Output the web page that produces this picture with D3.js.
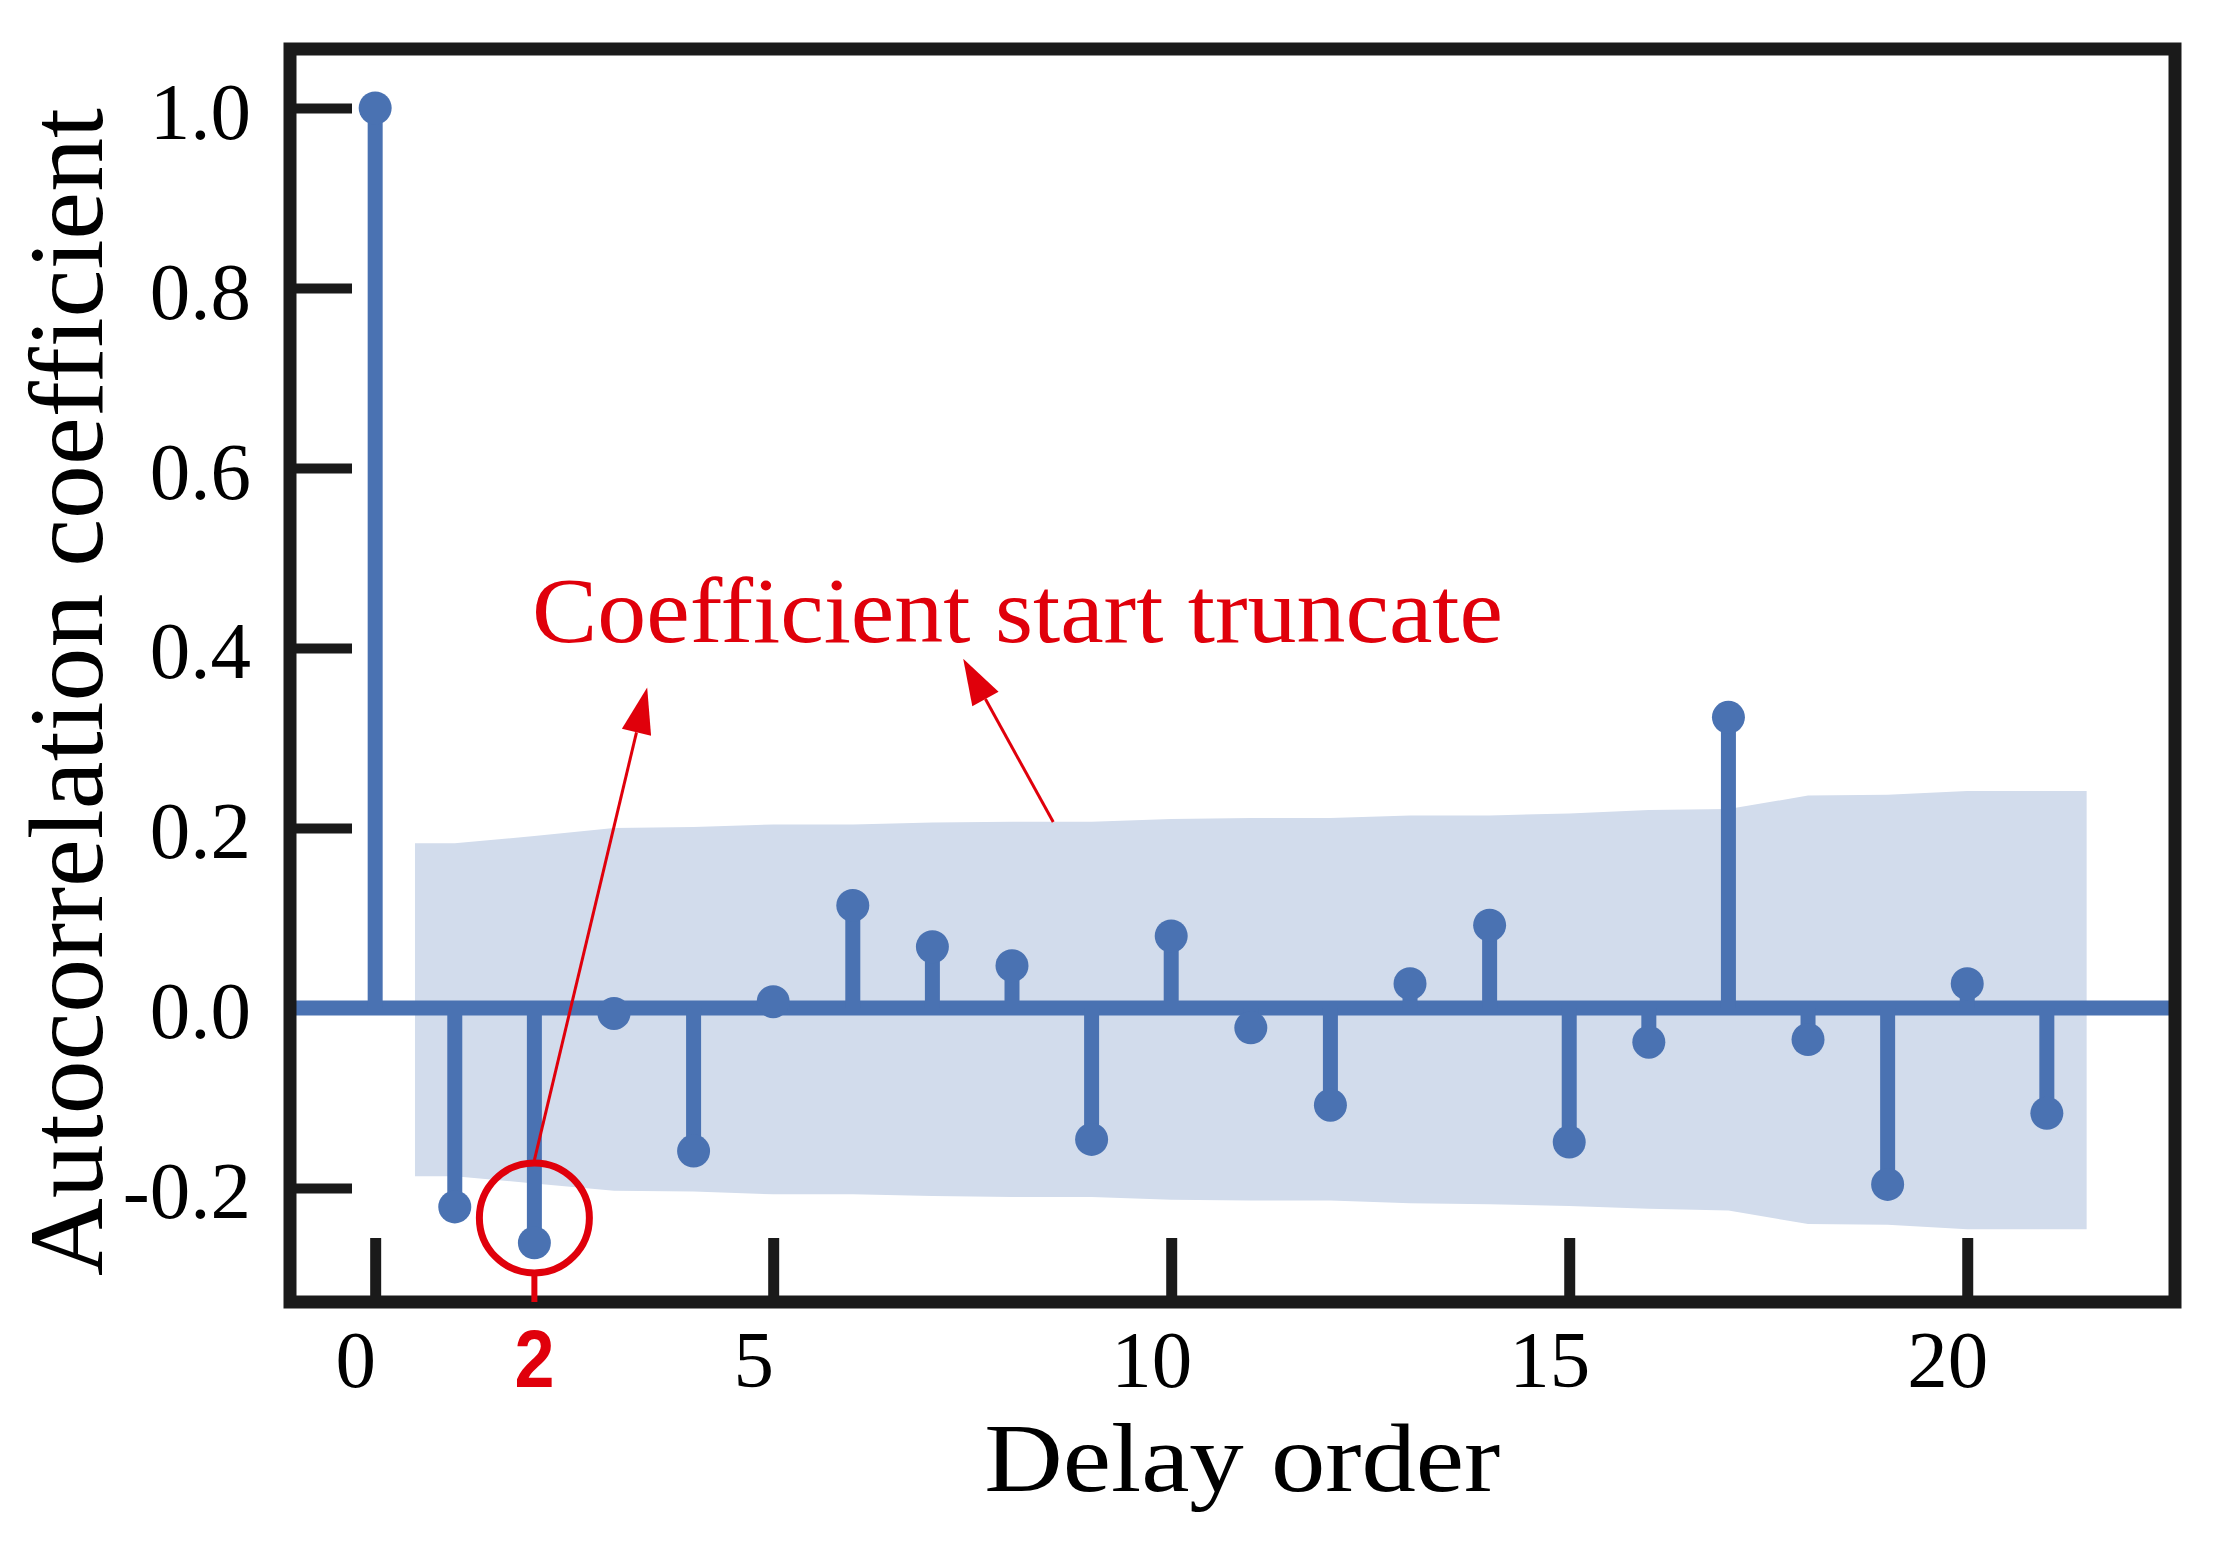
<!DOCTYPE html>
<html>
<head>
<meta charset="utf-8">
<script src="https://cdn.jsdelivr.net/npm/d3@7"></script>
<style>
  html, body { margin: 0; padding: 0; background: #ffffff; }
  svg { display: block; }
</style>
</head>
<body>
<svg id="chart" width="2234" height="1564"></svg>
<script>
// ---------------- data ----------------
const lags = [0, 1, 2, 3, 4, 5, 6, 7, 8, 9, 10, 11, 12, 13, 14, 15, 16, 17, 18, 19, 20, 21];
const acfValues = [1.0, -0.221, -0.261, -0.006, -0.159, 0.007, 0.114, 0.068, 0.047, -0.146, 0.080, -0.022,
                   -0.108, 0.027, 0.092, -0.149, -0.038, 0.323, -0.035, -0.196, 0.027, -0.117];

const bandLags  = [0.5, 1, 2, 3, 4, 5, 6, 7, 8, 9, 10, 11, 12, 13, 14, 15, 16, 17, 18, 19, 20, 21, 21.5];
const bandUpper = [0.183, 0.183, 0.191, 0.200, 0.201, 0.204, 0.204, 0.206, 0.207, 0.207, 0.210, 0.211,
                   0.211, 0.214, 0.214, 0.216, 0.220, 0.221, 0.236, 0.237, 0.241, 0.241, 0.241];
const bandLower = [-0.187, -0.187, -0.195, -0.203, -0.204, -0.207, -0.207, -0.209, -0.210, -0.210, -0.213, -0.214,
                   -0.214, -0.217, -0.218, -0.220, -0.223, -0.225, -0.240, -0.241, -0.246, -0.246, -0.246];

const xTickValues = [0, 5, 10, 15, 20];
const xTickLabels = ["0", "5", "10", "15", "20"];
const yTickValues = [-0.2, 0.0, 0.2, 0.4, 0.6, 0.8, 1.0];
const yTickLabels = ["-0.2", "0.0", "0.2", "0.4", "0.6", "0.8", "1.0"];

const xTitle = "Delay order";
const yTitle = "Autocorrelation coefficient";
const annotationText = "Coefficient start truncate";
const highlightLag = 2;
const highlightLabel = "2";

// ---------------- layout ----------------
const frame = { left: 290, right: 2175, top: 49, bottom: 1302 };
const blue = "#4a72b2";
const bandColor = "#d2dcec";
const red = "#e0000b";
const ink = "#1a1a1a";
const serif = "'Liberation Serif', 'Times New Roman', serif";

const x = d3.scaleLinear().domain([-1.07, 22.61]).range([frame.left, frame.right]);
const y = d3.scaleLinear().domain([-0.3267, 1.0656]).range([frame.bottom, frame.top]);

const svg = d3.select("#chart");

// confidence band
const area = d3.area()
  .x((d, i) => x(bandLags[i]))
  .y0((d, i) => y(bandLower[i]))
  .y1((d, i) => y(bandUpper[i]));
svg.append("path")
  .datum(bandLags)
  .attr("d", area)
  .attr("fill", bandColor);

// y axis (ticks inward)
const yAxis = d3.axisLeft(y)
  .tickValues(yTickValues)
  .tickSize(-62)
  .tickPadding(39)
  .tickFormat((d, i) => yTickLabels[i]);
const gy = svg.append("g")
  .attr("transform", `translate(${frame.left},0)`)
  .call(yAxis);
gy.select(".domain").remove();
gy.selectAll(".tick line").attr("stroke", ink).attr("stroke-width", 10);
gy.selectAll(".tick text")
  .attr("font-family", serif)
  .attr("font-size", 81)
  .attr("fill", "#000")
  .attr("dy", "0.37em");

// x axis (ticks inward)
const xAxis = d3.axisBottom(x)
  .tickValues(xTickValues)
  .tickSize(-64)
  .tickFormat((d, i) => xTickLabels[i]);
const gx = svg.append("g")
  .attr("transform", `translate(0,${frame.bottom})`)
  .call(xAxis);
gx.select(".domain").remove();
gx.selectAll(".tick line").attr("stroke", ink).attr("stroke-width", 11);
gx.selectAll(".tick text")
  .attr("font-family", serif)
  .attr("font-size", 81)
  .attr("fill", "#000")
  .attr("x", -20)
  .attr("y", 85)
  .attr("dy", 0);

// zero line
svg.append("line")
  .attr("x1", x.range()[0]).attr("x2", x.range()[1])
  .attr("y1", y(0)).attr("y2", y(0))
  .attr("stroke", blue).attr("stroke-width", 15);

// stems
svg.append("g").selectAll("line")
  .data(lags)
  .join("line")
  .attr("x1", d => x(d)).attr("x2", d => x(d))
  .attr("y1", y(0))
  .attr("y2", (d, i) => y(acfValues[i]))
  .attr("stroke", blue)
  .attr("stroke-width", 15);

// markers
svg.append("g").selectAll("circle")
  .data(lags)
  .join("circle")
  .attr("cx", d => x(d))
  .attr("cy", (d, i) => y(acfValues[i]))
  .attr("r", 16.5)
  .attr("fill", blue);

// frame
svg.append("rect")
  .attr("x", frame.left).attr("y", frame.top)
  .attr("width", frame.right - frame.left)
  .attr("height", frame.bottom - frame.top)
  .attr("fill", "none")
  .attr("stroke", ink)
  .attr("stroke-width", 13);

// axis titles
svg.append("text")
  .attr("x", (x(0) + x(20)) / 2 + 71)
  .attr("y", 1491)
  .attr("text-anchor", "middle")
  .attr("font-family", serif)
  .attr("font-size", 98)
  .attr("textLength", 516)
  .attr("lengthAdjust", "spacingAndGlyphs")
  .attr("fill", "#000")
  .text(xTitle);

svg.append("text")
  .attr("transform", `translate(102,${(y(1.0) + y(-0.2)) / 2 + 44}) rotate(-90)`)
  .attr("text-anchor", "middle")
  .attr("font-family", serif)
  .attr("font-size", 105)
  .attr("textLength", 1168)
  .attr("lengthAdjust", "spacingAndGlyphs")
  .attr("fill", "#000")
  .text(yTitle);

// ---------------- annotations ----------------
const circleValue = -0.2333;
const circleR = 55;
svg.append("circle")
  .attr("cx", x(highlightLag)).attr("cy", y(circleValue))
  .attr("r", circleR)
  .attr("fill", "none")
  .attr("stroke", red)
  .attr("stroke-width", 7);

svg.append("line")
  .attr("x1", x(highlightLag)).attr("x2", x(highlightLag))
  .attr("y1", y(circleValue) + circleR)
  .attr("y2", frame.bottom)
  .attr("stroke", red)
  .attr("stroke-width", 6);

svg.append("text")
  .attr("x", x(highlightLag))
  .attr("y", 1387)
  .attr("text-anchor", "middle")
  .attr("font-family", "'Liberation Sans', Arial, sans-serif")
  .attr("font-weight", "bold")
  .attr("font-size", 82)
  .attr("textLength", 40)
  .attr("lengthAdjust", "spacingAndGlyphs")
  .attr("fill", red)
  .text(highlightLabel);

svg.append("text")
  .attr("x", x(1.97))
  .attr("y", y(0.407))
  .attr("font-family", serif)
  .attr("font-size", 93)
  .attr("textLength", 971)
  .attr("lengthAdjust", "spacingAndGlyphs")
  .attr("fill", red)
  .text(annotationText);

function arrow(fromLag, fromVal, toLag, toVal) {
  const x1 = x(fromLag), y1 = y(fromVal), x2 = x(toLag), y2 = y(toVal);
  const dx = x2 - x1, dy = y2 - y1, len = Math.hypot(dx, dy);
  const ux = dx / len, uy = dy / len;
  const headLen = 46, headW = 15;
  const bx = x2 - ux * headLen, by = y2 - uy * headLen;
  svg.append("line")
    .attr("x1", x1).attr("y1", y1)
    .attr("x2", bx).attr("y2", by)
    .attr("stroke", red).attr("stroke-width", 3);
  svg.append("path")
    .attr("d", `M${x2},${y2} L${bx - uy * headW},${by + ux * headW} L${bx + uy * headW},${by - ux * headW} Z`)
    .attr("fill", red);
}
arrow(2.0, -0.169, 3.417, 0.356);
arrow(8.518, 0.2067, 7.387, 0.388);
</script>
</body>
</html>
